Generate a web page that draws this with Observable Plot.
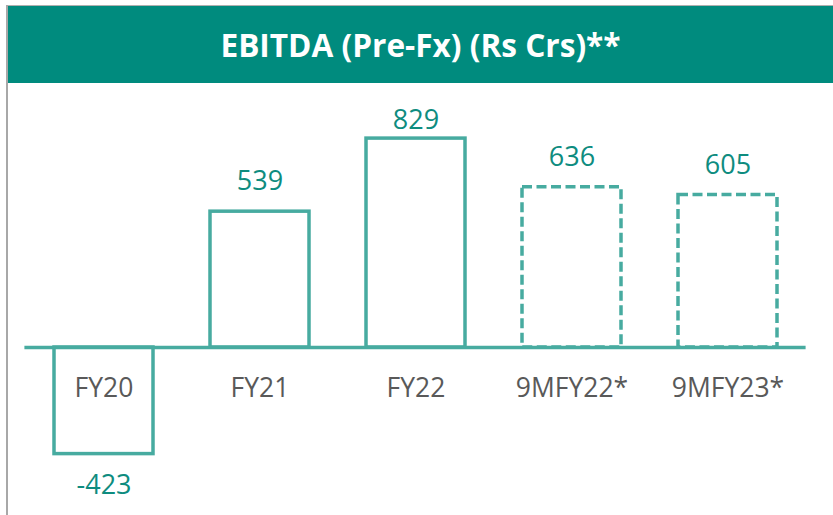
<!DOCTYPE html>
<html>
<head>
<meta charset="utf-8">
<script src="https://cdn.jsdelivr.net/npm/d3@7"></script>
<script src="https://cdn.jsdelivr.net/npm/@observablehq/plot@0.6"></script>
<style>
  html, body { margin: 0; padding: 0; background: #fff; }
  #wrap { position: relative; width: 833px; height: 515px; overflow: hidden; font-family: "Open Sans", sans-serif; }
  #topline { position: absolute; left: 6px; top: 5px; width: 827px; height: 1px; background: #b0b0b0; }
  #leftline { position: absolute; left: 6px; top: 5px; width: 2px; height: 510px; background: #a8a8a8; }
  #title { position: absolute; left: 8px; top: 6px; width: 825px; height: 77px; background: #008B7E;
           color: #fff; font-weight: 700; font-size: 31.6px; display: flex; align-items: center; justify-content: center; }
  #chart { position: absolute; left: 0; top: 84px; }
</style>
</head>
<body>
<div id="wrap">
  <div id="title">EBITDA (Pre-Fx) (Rs Crs)**</div>
  <div id="topline"></div>
  <div id="leftline"></div>
  <div id="chart"></div>
</div>
<script>
const categories = ["FY20", "FY21", "FY22", "9MFY22*", "9MFY23*"];
const values = [-423, 539, 829, 636, 605];
const dashed = [false, false, false, true, true];

const data = categories.map((c, i) => ({cat: c, value: values[i], dashed: dashed[i]}));

const barColor = "#47ABA0";
const labelColor = "#0E8C7F";
// labels sit outside the bar end but are kept inside the plot area
const labelCap = 784;

const plot = Plot.plot({
  width: 833,
  height: 431,
  marginLeft: 24.4,
  marginRight: 27.4,
  marginTop: 0,
  marginBottom: 0,
  style: {fontFamily: "Open Sans, sans-serif", background: "transparent", overflow: "visible"},
  x: {domain: categories, paddingInner: 0.366, paddingOuter: 0.183, axis: null},
  y: {domain: [-500, 900], range: [389, 36.2], axis: null},
  marks: [
    Plot.barY(data.filter(d => !d.dashed), {x: "cat", y: "value", fill: "white", stroke: barColor, strokeWidth: 3.5}),
    Plot.barY(data.filter(d => d.dashed), {x: "cat", y: "value", fill: "white", stroke: barColor, strokeWidth: 3.5, strokeDasharray: "10,4.5"}),
    Plot.ruleY([0], {stroke: barColor, strokeWidth: 3.5}),
    Plot.text(data.filter(d => d.value >= 0), {x: "cat", y: d => Math.min(d.value, labelCap), text: d => String(d.value), dy: -30, fill: labelColor, fontSize: 27, lineAnchor: "middle"}),
    Plot.text(data.filter(d => d.value < 0), {x: "cat", y: "value", text: d => String(d.value), dy: 31, fill: labelColor, fontSize: 27, lineAnchor: "middle"}),
    Plot.text(data, {x: "cat", y: () => 0, text: "cat", dy: 41, fill: "#595959", fontSize: 26.5, lineAnchor: "middle"})
  ]
});
document.getElementById("chart").appendChild(plot);
</script>
</body>
</html>
